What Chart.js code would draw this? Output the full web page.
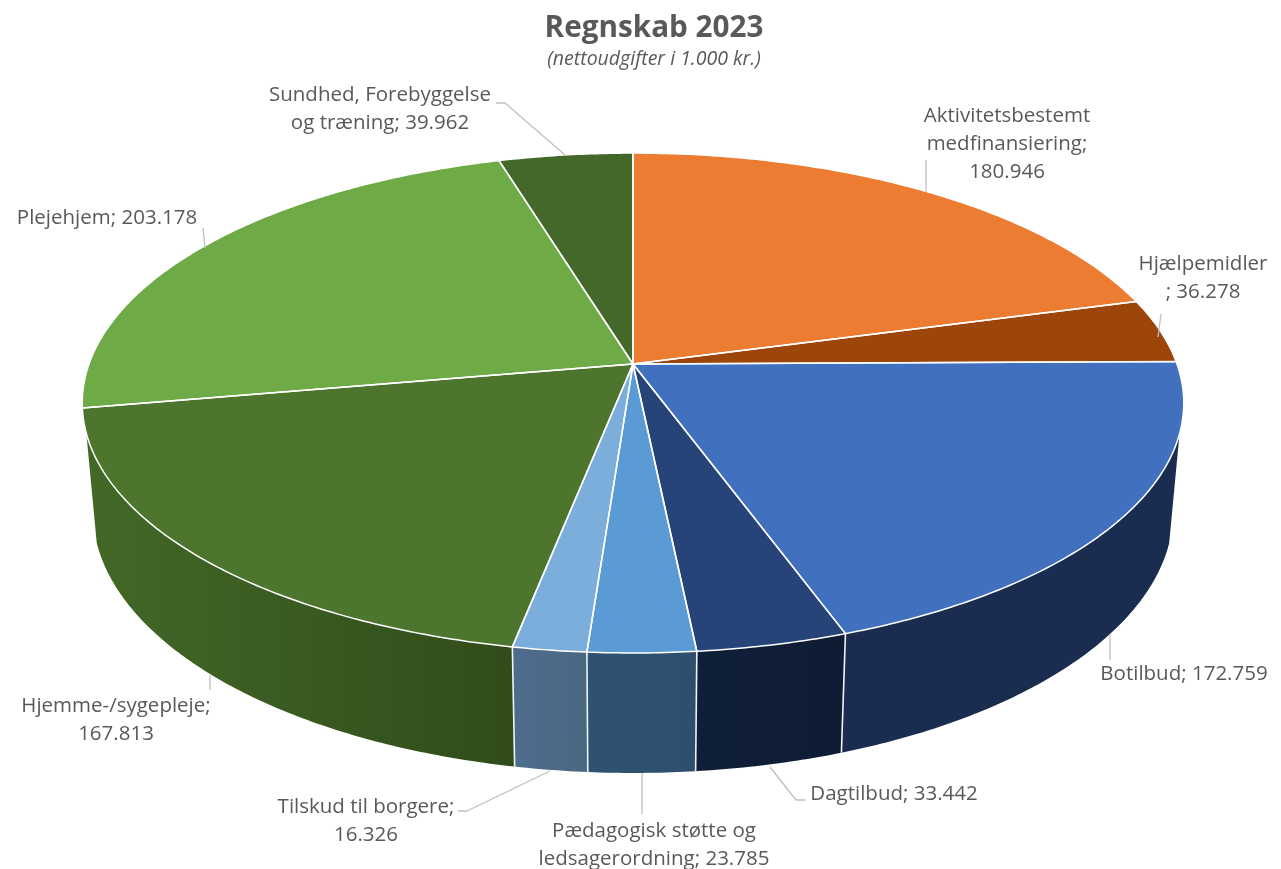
<!DOCTYPE html>
<html lang="da">
<head>
<meta charset="utf-8">
<title>Regnskab 2023</title>
<script src="https://cdn.jsdelivr.net/npm/chart.js@4"></script>
<style>
    html, body { margin: 0; padding: 0; background: #fff; }
    canvas { display: block; }
</style>
</head>
<body>
<canvas id="pieChart" width="1281" height="869"></canvas>
<script>
// Data
const categories = [
    'Aktivitetsbestemt medfinansiering', 'Hjælpemidler', 'Botilbud', 'Dagtilbud',
    'Pædagogisk støtte og ledsagerordning', 'Tilskud til borgere', 'Hjemme-/sygepleje',
    'Plejehjem', 'Sundhed, Forebyggelse og træning'
];
const values = [180946, 36278, 172759, 33442, 23785, 16326, 167813, 203178, 39962];

// Colours
const topColors = ['#EB7C31', '#9C460B', '#4170BF', '#264478', '#5B9BD5', '#7CAEDC', '#4D752D', '#6EAB46', '#43682A'];
const wallLeft = ['#8A4A1E', '#5C2A07', '#1A2C4F', '#101F39', '#2F5273', '#4E6D8D', '#426827', '#43682A', '#2A421A'];
const wallRight = ['#8A4A1E', '#5C2A07', '#1A2C4F', '#0E1B33', '#2E4F6C', '#4A6782', '#314C1A', '#43682A', '#2A421A'];

// Label text ({v} = the value) and where it sits
const labelSpots = [
    { x: 1007, y: 122, lines: ['Aktivitetsbestemt', 'medfinansiering;', '{v}'], leader: [[926, 160], [926, 192]] },
    { x: 1203, y: 270, lines: ['Hjælpemidler', '; {v}'], leader: [[1161, 314], [1158, 337]] },
    { x: 1184, y: 680, lines: ['Botilbud; {v}'], leader: [[1110, 660], [1110, 634]] },
    { x: 894, y: 800, lines: ['Dagtilbud; {v}'], leader: [[805, 800], [796, 800], [770, 767]] },
    { x: 654, y: 837, lines: ['Pædagogisk støtte og', 'ledsagerordning; {v}'], leader: [[642, 814], [642, 773]] },
    { x: 366, y: 813, lines: ['Tilskud til borgere;', '{v}'], leader: [[458, 811], [467, 811], [550, 771]] },
    { x: 116, y: 712, lines: ['Hjemme-/sygepleje;', '{v}'], leader: [[210, 690], [210, 675]] },
    { x: 107, y: 224, lines: ['Plejehjem; {v}'], leader: [[203, 228], [205, 248]] },
    { x: 380, y: 101, lines: ['Sundhed, Forebyggelse', 'og træning; {v}'], leader: [[496, 103], [505, 103], [565, 155]] }
];

const LABEL_LINE = 28;
const SHIFT_X = -21;      // title is centred 21px right of the pie
const FLATTEN = 0.4483;   // vertical squash of the top face
const PERSP = 0.156;      // near edge bigger than far edge
const WALL_FROM = 0.27;   // wall only shows below this point of the rim
const BOTTOM_CY = 511, RIM_CY = 403, BOTTOM_KX = 0.981, BOTTOM_KY = 1.048;

const fmt = n => String(n).replace(/\B(?=(\d{3})+$)/g, '.');

// Perspective point on the top face for an arc angle
function rimPoint(el, a) {
    const w = 1 - PERSP * Math.sin(a);
    return {
        x: el.x + SHIFT_X + el.outerRadius * Math.cos(a) / w,
        y: el.y + el.outerRadius * FLATTEN * Math.sin(a) / w
    };
}

// Same point on the lower edge of the wall
function bottomPoint(el, a) {
    const p = rimPoint(el, a);
    const cx = el.x + SHIFT_X;
    return { x: cx + (p.x - cx) * BOTTOM_KX, y: BOTTOM_CY + (p.y - RIM_CY) * BOTTOM_KY };
}

function anglesOf(el) {
    const n = Math.max(2, Math.ceil((el.endAngle - el.startAngle) / 0.01));
    const out = [];
    for (let i = 0; i <= n; i++) out.push(el.startAngle + (el.endAngle - el.startAngle) * i / n);
    return out;
}

const pie3d = {
    id: 'pie3d',
    beforeDatasetsDraw(chart) {
        const ctx = chart.ctx;
        const arcs = chart.getDatasetMeta(0).data;
        ctx.save();
        ctx.lineJoin = 'round';

        // walls: all quads of a slice go in one path, so no seams between them
        arcs.forEach((el, i) => {
            const angles = anglesOf(el).filter(a => Math.sin(a) >= WALL_FROM);
            if (angles.length < 2) return;
            const top = angles.map(a => rimPoint(el, a));
            const bottom = angles.map(a => bottomPoint(el, a));
            const xs = top.concat(bottom).map(p => p.x);
            const grad = ctx.createLinearGradient(Math.min(...xs), 0, Math.max(...xs), 0);
            grad.addColorStop(0, wallLeft[i]);
            grad.addColorStop(1, wallRight[i]);
            ctx.beginPath();
            for (let k = 0; k < angles.length - 1; k++) {
                ctx.moveTo(top[k].x, top[k].y);
                ctx.lineTo(top[k + 1].x, top[k + 1].y);
                ctx.lineTo(bottom[k + 1].x, bottom[k + 1].y);
                ctx.lineTo(bottom[k].x, bottom[k].y);
                ctx.closePath();
            }
            ctx.fillStyle = grad;
            ctx.fill();
        });

        // slice separators on the front of the wall
        ctx.strokeStyle = '#F0F3F5';
        ctx.lineWidth = 1.6;
        arcs.forEach(el => {
            if (Math.sin(el.startAngle) < WALL_FROM) return;
            const a = rimPoint(el, el.startAngle);
            const b = bottomPoint(el, el.startAngle);
            ctx.beginPath();
            ctx.moveTo(a.x, a.y);
            ctx.lineTo(b.x, b.y);
            ctx.stroke();
        });

        // top face
        const traceSlice = el => {
            ctx.beginPath();
            ctx.moveTo(el.x + SHIFT_X, el.y);
            anglesOf(el).forEach(a => {
                const p = rimPoint(el, a);
                ctx.lineTo(p.x, p.y);
            });
            ctx.closePath();
        };
        arcs.forEach((el, i) => {
            traceSlice(el);
            ctx.fillStyle = topColors[i];
            ctx.fill();
        });
        ctx.strokeStyle = '#FFFFFF';
        ctx.lineWidth = 1.5;
        arcs.forEach(el => {
            traceSlice(el);
            ctx.stroke();
        });

        // leaders and labels
        labelSpots.forEach((spot, i) => {
            ctx.strokeStyle = '#BFBFBF';
            ctx.lineWidth = 1.3;
            ctx.beginPath();
            spot.leader.forEach((p, k) => k ? ctx.lineTo(p[0], p[1]) : ctx.moveTo(p[0], p[1]));
            ctx.stroke();
            ctx.fillStyle = '#595959';
            ctx.font = '20.5px "Open Sans"';
            ctx.textAlign = 'center';
            ctx.textBaseline = 'alphabetic';
            spot.lines.forEach((line, k) => {
                ctx.fillText(line.replace('{v}', fmt(values[i])), spot.x, spot.y + k * LABEL_LINE);
            });
        });
        ctx.restore();
        return false;
    }
};

new Chart(document.getElementById('pieChart'), {
    type: 'pie',
    data: {
        labels: categories,
        datasets: [{ data: values, backgroundColor: topColors, radius: 544 }]
    },
    plugins: [pie3d],
    options: {
        responsive: false,
        animation: false,
        layout: { padding: { left: 27, bottom: 212 } },
        plugins: {
            legend: { display: false },
            tooltip: { enabled: false },
            title: {
                display: true,
                text: 'Regnskab 2023',
                color: '#595959',
                font: { family: '"Open Sans"', size: 29.7, weight: 'bold' },
                padding: { top: 11, bottom: 0 }
            },
            subtitle: {
                display: true,
                text: '(nettoudgifter i 1.000 kr.)',
                color: '#595959',
                font: { family: '"Open Sans"', size: 19.5, style: 'italic' },
                padding: { top: 1, bottom: 0 }
            }
        }
    }
});
</script>
</body>
</html>
